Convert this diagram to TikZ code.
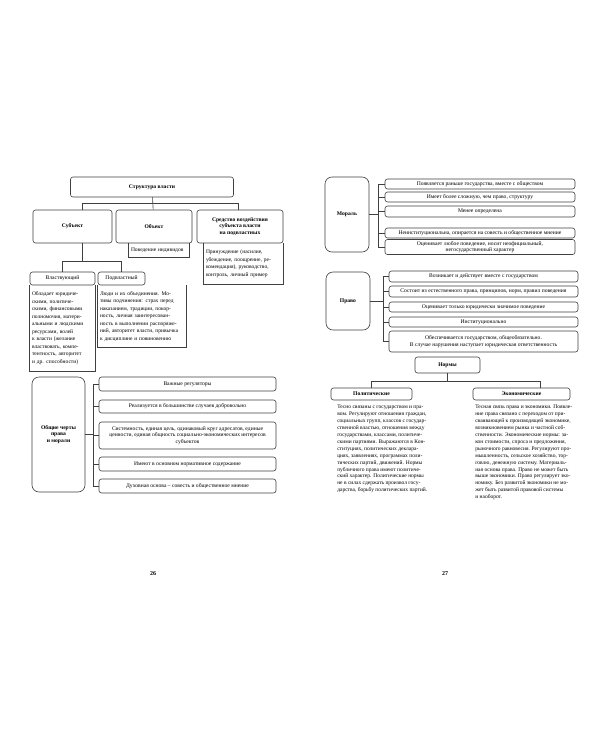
\documentclass[tikz,border=0pt]{standalone}
\usepackage{fontspec}
\setmainfont{Liberation Serif}
\usetikzlibrary{positioning, calc}

\begin{document}
\begin{tikzpicture}[
  x=1pt, y=-1pt, line width=0.6pt,
  head/.style = {draw=black!75, rounded corners=2.5pt, align=center,
                 font=\fontsize{5.6}{6.6}\selectfont\bfseries, inner sep=1pt},
  big/.style  = {draw=black!75, rounded corners=7pt, align=center,
                 font=\fontsize{5.6}{6.6}\selectfont\bfseries, inner sep=1pt},
  item/.style = {draw=black!75, rounded corners=2.5pt, align=center,
                 font=\fontsize{5.6}{6.6}\selectfont, inner sep=1pt},
  note/.style = {align=left, inner xsep=2pt, inner ysep=3pt,
                 font=\fontsize{5.5}{7.5}\selectfont},
  para/.style = {align=left, inner sep=0pt, anchor=north west,
                 font=\fontsize{5.5}{6.9}\selectfont},
  link/.style = {draw=black!75},
  num/.style  = {font=\fontsize{6}{7}\selectfont\bfseries},
]
\useasboundingbox[fill=white] (0,0) rectangle (600,750);

%── Страница 26: структура власти ─────────────────────────────────────────
\node[head, minimum width=163pt, minimum height=20pt] (struct) at (152,187)
  {Структура власти};

\node[head, minimum width=79pt, minimum height=33pt] (subj) at (72.5,226.5)
  {Субъект};
\node[head, minimum width=76pt, minimum height=33pt] (obj)  at (154,226.5)
  {Объект};
\node[head, minimum width=86pt, minimum height=33pt] (sred) at (240,226.5)
  {Средство воздействия\\субъекта власти\\на подвластных};

\node[item, minimum width=65pt, minimum height=13pt] (vlast) at (62.5,278.5)
  {Властвующий};
\node[item, minimum width=47pt, minimum height=13pt] (podv)  at (121.5,278.5)
  {Подвластный};

%── Пояснения под заголовками ─────────────────────────────────────────────
\node[note, anchor=north west, text width=61pt, minimum height=85pt]
  (vlast_t) at (vlast.south west)
  {Обладает юридиче-\\скими, политиче-\\скими, финансовыми\\полномочия, матери-\\альными и людскими\\ресурсами, волей\\к власти (желание\\властвовать, компе-\\тентность, авторитет\\и др. способности)};

\node[note, anchor=north west, text width=84pt, minimum height=61pt]
  (podv_t) at (podv.south west)
  {Люди и их объединения. Мо-\\тивы подчинения: страх перед\\наказанием, традиции, покор-\\ность, личная заинтересован-\\ность в выполнении распоряже-\\ний, авторитет власти, привычка\\к дисциплине и повиновению};

\node[note, anchor=north east, text width=56pt, minimum height=13pt,
      inner ysep=2pt, xshift=-3pt]
  (obj_t) at (obj.south east)
  {Поведение индивидов};

\node[note, anchor=north east, text width=75pt, minimum height=40pt]
  (sred_t) at (sred.south east)
  {Принуждение (насилие,\\убеждение, поощрение, ре-\\комендация), руководство,\\контроль, личный пример};

\draw[link] (vlast_t.north west) |- (vlast_t.south east) -- (vlast_t.north east);
\draw[link] (podv_t.north west)  |- (podv_t.south east)  -- (podv_t.north east);
\draw[link] (obj_t.north west)   |- (obj_t.south east)   -- (obj_t.north east);
\draw[link] (sred_t.north west)  |- (sred_t.south east)  -- (sred_t.north east);

%── Связи дерева ──────────────────────────────────────────────────────────
\coordinate (bar_l) at (82,203);
\coordinate (bar_r) at (238,203);
\draw[link] (struct) -- (obj);
\draw[link] (bar_l) -- (bar_r);
\draw[link] (bar_l) -- (bar_l |- subj.north);
\draw[link] (bar_r) -- (bar_r |- sred.north);

\coordinate (sub_bar) at (82,261);
\draw[link] (sub_bar |- subj.south) -- (sub_bar);
\draw[link] (vlast.north |- sub_bar) -- (podv.north |- sub_bar);
\draw[link] (vlast.north |- sub_bar) -- (vlast.north);
\draw[link] (podv.north |- sub_bar)  -- (podv.north);

%── Общие черты права и морали ────────────────────────────────────────────
\node[big, minimum width=53pt, minimum height=115pt] (common) at (58.5,434.5)
  {Общие черты\\права\\и морали};

\node[item, minimum width=177pt, minimum height=14pt] (c1) at (187.5,384)
  {Важные регуляторы};
\node[item, minimum width=177pt, minimum height=13pt] (c2) at (187.5,406.5)
  {Реализуется в большинстве случаев добровольно};
\node[item, minimum width=177pt, minimum height=27pt] (c3) at (187.5,435.5)
  {Системность, единая цель, одинаковый круг адресатов, единые\\ценности, единая общность социально-экономических интересов\\субъектов};
\node[item, minimum width=177pt, minimum height=14pt] (c4) at (187.5,464)
  {Имеют в основном нормативное содержание};
\node[item, minimum width=177pt, minimum height=14pt] (c5) at (187.5,486)
  {Духовная основа – совесть и общественное мнение};

\coordinate (c_spine) at (93,0);
\draw[link] (common.east) -- (c_spine |- common.east);
\draw[link] (c_spine |- c1) -- (c_spine |- c5);
\draw[link] (c_spine |- c1) -- (c1.west);
\draw[link] (c_spine |- c2) -- (c2.west);
\draw[link] (c_spine |- c3) -- (c3.west);
\draw[link] (c_spine |- c4) -- (c4.west);
\draw[link] (c_spine |- c5) -- (c5.west);

\node[num] (p26) at (153,574) {26};

%── Страница 27: мораль ───────────────────────────────────────────────────
\node[big, minimum width=44pt, minimum height=75pt] (moral) at (347,214.5)
  {Мораль};

\node[item, minimum width=190pt, minimum height=10pt] (m1) at (480,184)
  {Появляется раньше государства, вместе с обществом};
\node[item, minimum width=190pt, minimum height=10pt] (m2) at (480,197)
  {Имеет более сложную, чем право, структуру};
\node[item, minimum width=190pt, minimum height=11pt] (m3) at (480,211.5)
  {Менее определена};
\node[item, minimum width=190pt, minimum height=10pt] (m4) at (480,233)
  {Неинституциональна, опирается на совесть и общественное мнение};
\node[item, minimum width=190pt, minimum height=15pt] (m5) at (480,247)
  {Оценивает любое поведение, носит неофициальный,\\негосударственный характер};

\coordinate (m_spine) at (378,0);
\draw[link] (moral.east) -- (m_spine |- moral.east);
\draw[link] (m_spine |- m1) -- (m_spine |- m5);
\draw[link] (m_spine |- m1) -- (m1.west);
\draw[link] (m_spine |- m2) -- (m2.west);
\draw[link] (m_spine |- m3) -- (m3.west);
\draw[link] (m_spine |- m4) -- (m4.west);
\draw[link] (m_spine |- m5) -- (m5.west);

%── Право ─────────────────────────────────────────────────────────────────
\node[big, minimum width=44pt, minimum height=58pt] (law) at (348,301)
  {Право};

\node[item, minimum width=189pt, minimum height=11pt] (l1) at (483.5,276.5)
  {Возникает и действует вместе с государством};
\node[item, minimum width=189pt, minimum height=11pt] (l2) at (483.5,291.5)
  {Состоит из естественного права, принципов, норм, правил поведения};
\node[item, minimum width=189pt, minimum height=10pt] (l3) at (483.5,307)
  {Оценивает только юридически значимое поведение};
\node[item, minimum width=189pt, minimum height=10pt] (l4) at (483.5,322)
  {Институционально};
\node[item, minimum width=189pt, minimum height=21pt] (l5) at (483.5,341.5)
  {Обеспечивается государством, общеобязательно.\\В случае нарушения наступает юридическая ответственность};

\coordinate (l_spine) at (383,0);
\draw[link] (law.east) -- (l_spine |- law.east);
\draw[link] (l_spine |- l1) -- (l_spine |- l5);
\draw[link] (l_spine |- l1) -- (l1.west);
\draw[link] (l_spine |- l2) -- (l2.west);
\draw[link] (l_spine |- l3) -- (l3.west);
\draw[link] (l_spine |- l4) -- (l4.west);
\draw[link] (l_spine |- l5) -- (l5.west);

%── Нормы ─────────────────────────────────────────────────────────────────
\node[head, minimum width=65pt, minimum height=16pt] (norms) at (447.5,365)
  {Нормы};
\node[head, minimum width=81pt, minimum height=12pt] (polit) at (371.5,394)
  {Политические};
\node[head, minimum width=97pt, minimum height=12pt] (econ)  at (521.5,394)
  {Экономические};

\coordinate (n_bar) at (447.5,381);
\coordinate (n_r)   at (540,381);
\draw[link] (norms) -- (n_bar);
\draw[link] (polit.north |- n_bar) -- (n_r);
\draw[link] (polit.north |- n_bar) -- (polit.north);
\draw[link] (n_r) -- (n_r |- econ.north);

\node[para] (polit_t) at (337,405)
  {Тесно связаны с государством и пра-\\вом. Регулируют отношения граждан,\\социальных групп, классов с государ-\\ственной властью, отношения между\\государствами, классами, политиче-\\скими партиями. Выражаются в Кон-\\ституциях, политических деклара-\\циях, заявлениях, программах поли-\\тических партий, движений. Нормы\\публичного права имеют политиче-\\ский характер. Политические нормы\\не в силах сдержать произвол госу-\\дарства, борьбу политических партий.};

\node[para] (econ_t) at (475,405)
  {Тесная связь права и экономики. Появле-\\ние права связано с переходом от при-\\сваивающей к производящей экономике,\\возникновением рынка и частной соб-\\ственности. Экономические нормы: за-\\кон стоимости, спроса и предложения,\\рыночного равновесия. Регулируют про-\\мышленность, сельское хозяйство, тор-\\говлю, денежную систему. Материаль-\\ная основа права. Право не может быть\\выше экономики. Право регулирует эко-\\номику. Без развитой экономики не мо-\\жет быть развитой правовой системы\\и наоборот.};

\node[num] (p27) at (445,574) {27};

\end{tikzpicture}
\end{document}
